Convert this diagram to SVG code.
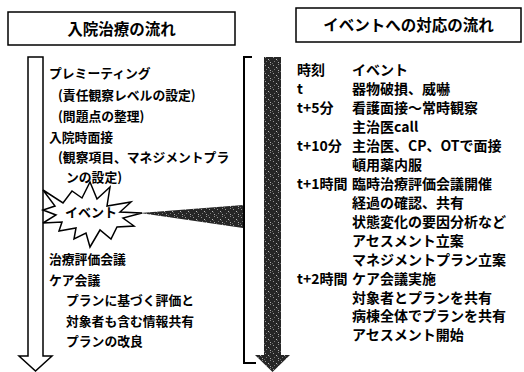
<svg xmlns="http://www.w3.org/2000/svg" width="524" height="372" viewBox="0 0 524 372">
<defs>
<style>
.t{font-family:"Noto Sans CJK JP","Noto Sans CJK SC",sans-serif;font-weight:bold;font-size:14px;fill:#000}
.l{font-family:"Noto Sans CJK JP","Noto Sans CJK SC",sans-serif;font-weight:bold;font-size:12.8px;fill:#000}
.h{font-family:"Noto Sans CJK JP","Noto Sans CJK SC",sans-serif;font-weight:bold;font-size:15.5px;fill:#000}
.box{fill:#fff;stroke:#000;stroke-width:1.5}
.ln{fill:none;stroke:#000;stroke-width:2}
</style>
<pattern id="dark" width="8" height="8" patternUnits="userSpaceOnUse">
<rect width="8" height="8" fill="#262626"/>
<rect x="1" y="1" width="1" height="1" fill="#999"/>
<rect x="4" y="3" width="1" height="1" fill="#bbb"/>
<rect x="2" y="5" width="1" height="1" fill="#777"/>
<rect x="6" y="0" width="1" height="1" fill="#888"/>
<rect x="6" y="6" width="1" height="1" fill="#aaa"/>
<rect x="0" y="7" width="1" height="1" fill="#666"/>
<rect x="5" y="4" width="1" height="1" fill="#555"/>
</pattern>
</defs>
<rect width="524" height="372" fill="#fff"/>

<g id="header-left">
<rect class="box" x="8" y="12" width="227" height="33"/>
<text class="h" x="121.5" y="34.5" text-anchor="middle">入院治療の流れ</text>
</g>

<g id="header-right">
<rect class="box" x="296" y="8" width="225" height="34"/>
<text class="h" x="408.5" y="31" text-anchor="middle">イベントへの対応の流れ</text>
</g>

<g id="connectors">
<path id="arrow-left" d="M28,57 H43 V356 H52 L35.5,371 L19,356 H28 Z" fill="#fff" stroke="#000" stroke-width="1.5"/>
<path id="bracket" class="ln" d="M252,57 H244 V363 H256"/>
<path id="arrow-right" d="M264,57 H281 V355 H290 L272.5,372 L255,355 H264 Z" fill="url(#dark)"/>
<path id="wedge" d="M140,213 L243,205 L243,228 Z" fill="url(#dark)"/>
</g>

<g id="event-burst">
<polygon points="43,190 63,203 72,191 82,198 90,182 97,199 110,187 107,206 131,202 120,212 142,213 123,218 134,226 117,227 111,239 100,230 90,247 86,233 74,239 76,228 59,231 62,222 43,223 56,215 43,210 55,206" fill="#fff" stroke="#000" stroke-width="1.5"/>
<text class="t" x="91" y="217" text-anchor="middle" style="font-size:13px">イベント</text>
</g>

<g id="left-items">
<text class="l" x="49" y="78">プレミーティング</text>
<text class="l" x="58" y="100">(責任観察レベルの設定)</text>
<text class="l" x="58" y="121">(問題点の整理)</text>
<text class="l" x="49" y="142">入院時面接</text>
<text class="l" x="58" y="162">(観察項目、マネジメントプラ</text>
<text class="l" x="66" y="182">ンの設定)</text>
<text class="l" x="49" y="264">治療評価会議</text>
<text class="l" x="49" y="284.5">ケア会議</text>
<text class="l" x="66" y="305">プランに基づく評価と</text>
<text class="l" x="66" y="325.5">対象者も含む情報共有</text>
<text class="l" x="66" y="346">プランの改良</text>
</g>

<g id="right-items">
<text class="t" x="297" y="75">時刻</text>
<text class="t" x="352" y="75">イベント</text>
<text class="t" x="297" y="94">t</text>
<text class="t" x="352" y="94">器物破損、威嚇</text>
<text class="t" x="297" y="113">t+5分</text>
<text class="t" x="352" y="113">看護面接～常時観察</text>
<text class="t" x="352" y="132">主治医call</text>
<text class="t" x="297" y="151">t+10分</text>
<text class="t" x="352" y="151">主治医、CP、OTで面接</text>
<text class="t" x="352" y="170">頓用薬内服</text>
<text class="t" x="297" y="189">t+1時間</text>
<text class="t" x="352" y="189">臨時治療評価会議開催</text>
<text class="t" x="352" y="208">経過の確認、共有</text>
<text class="t" x="352" y="227">状態変化の要因分析など</text>
<text class="t" x="352" y="246">アセスメント立案</text>
<text class="t" x="352" y="265">マネジメントプラン立案</text>
<text class="t" x="297" y="284">t+2時間</text>
<text class="t" x="352" y="284">ケア会議実施</text>
<text class="t" x="352" y="302.5">対象者とプランを共有</text>
<text class="t" x="352" y="321">病棟全体でプランを共有</text>
<text class="t" x="352" y="339.5">アセスメント開始</text>
</g>
</svg>
